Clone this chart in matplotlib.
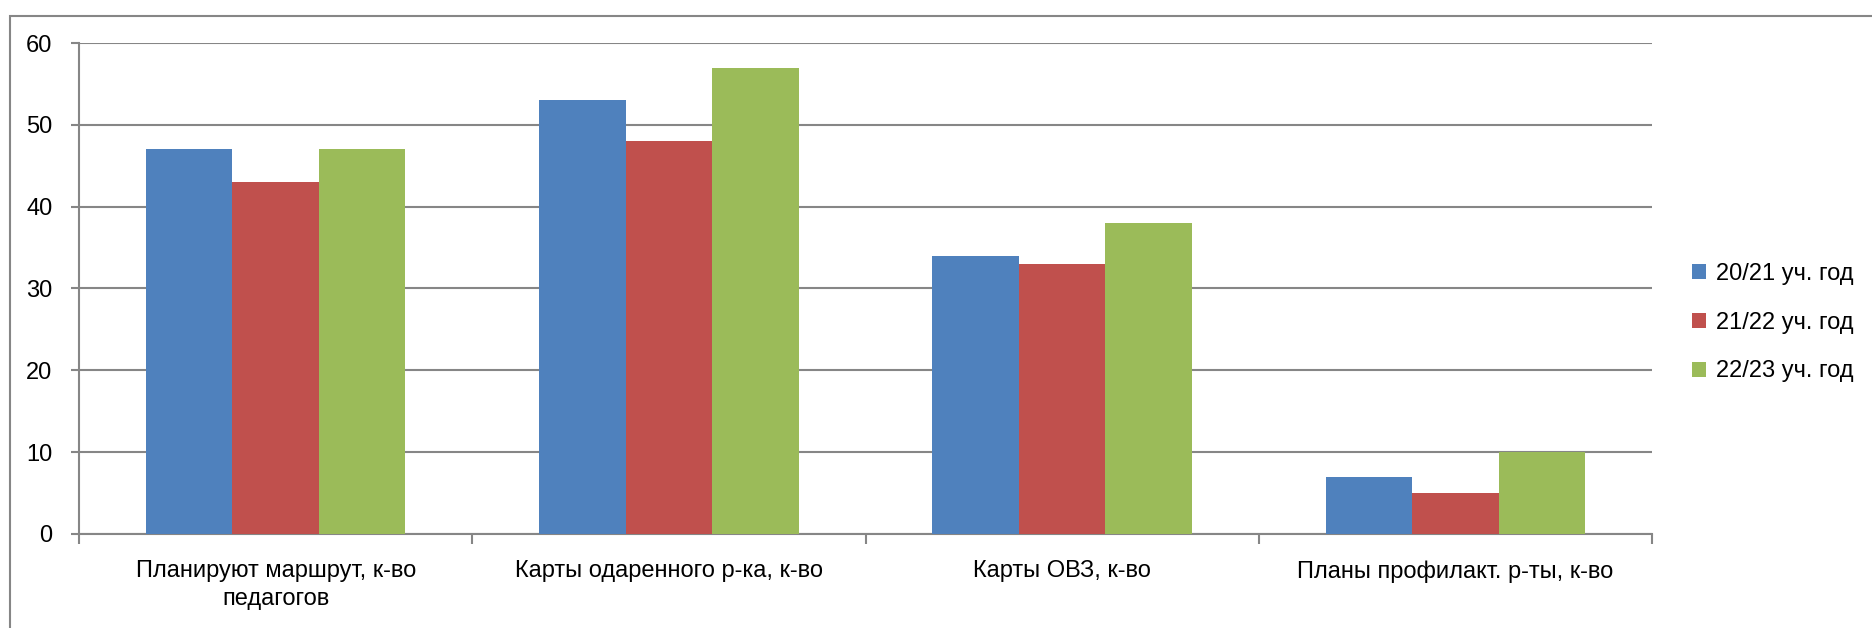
import matplotlib
matplotlib.use("Agg")
import matplotlib.pyplot as plt
from matplotlib.patches import Rectangle
import numpy as np

plt.rcParams['font.family'] = ['Liberation Sans Narrow', 'Liberation Sans', 'DejaVu Sans']

# data
categories = ["Планируют маршрут, к-во\nпедагогов", "Карты одаренного р-ка, к-во",
              "Карты ОВЗ, к-во", "Планы профилакт. р-ты, к-во"]
series_names = ["20/21 уч. год", "21/22 уч. год", "22/23 уч. год"]
vals_2021 = [47, 53, 34, 7]
vals_2122 = [43, 48, 33, 5]
vals_2223 = [47, 57, 38, 10]
colors = ["#4f81bd", "#c0504d", "#9bbb59"]
yticks = [0, 10, 20, 30, 40, 50, 60]

fig = plt.figure(figsize=(18.72, 6.28), dpi=100)
ax = fig.add_axes([0.0422, 0.150, 0.8403, 0.7815])

# outer chart frame (only top and left edges visible)
fig.patches.append(Rectangle((0.0053, -0.1), 1.2, 1.075,
                             transform=fig.transFigure, fill=False,
                             edgecolor="#868686", linewidth=1.5))

x = np.arange(len(categories))
w = 0.22
for i, (vals, name) in enumerate(zip([vals_2021, vals_2122, vals_2223], series_names)):
    ax.bar(x + (i - 1) * w, vals, width=w, color=colors[i], label=name, zorder=3)

ax.set_xlim(-0.5, len(categories) - 0.5)
ax.set_ylim(0, 60)
ax.set_yticks(yticks)
ax.set_yticklabels([str(t) for t in yticks], fontsize=17)
ax.yaxis.grid(True, color="#868686", linewidth=1.5, zorder=0)

ax.set_xticks(x)
ax.set_xticklabels(categories, fontsize=17, linespacing=1.35)
ax.set_xticks(np.arange(-0.5, len(categories)), minor=True)
ax.tick_params(axis="x", which="major", length=0, pad=19)
ax.tick_params(axis="x", which="minor", length=7, color="#868686", width=1.5)
ax.tick_params(axis="y", length=6, color="#868686", width=1.5, pad=13)

for s in ["top", "right"]:
    ax.spines[s].set_visible(False)
for s in ["left", "bottom"]:
    ax.spines[s].set_color("#868686")
    ax.spines[s].set_linewidth(1.5)

fig.legend(loc="center left", bbox_to_anchor=(0.904, 0.486), frameon=False,
           fontsize=17, handlelength=0.6, handleheight=0.6, handletextpad=0.4,
           labelspacing=1.13, borderaxespad=0, borderpad=0)

plt.savefig("out.png", dpi=100)
